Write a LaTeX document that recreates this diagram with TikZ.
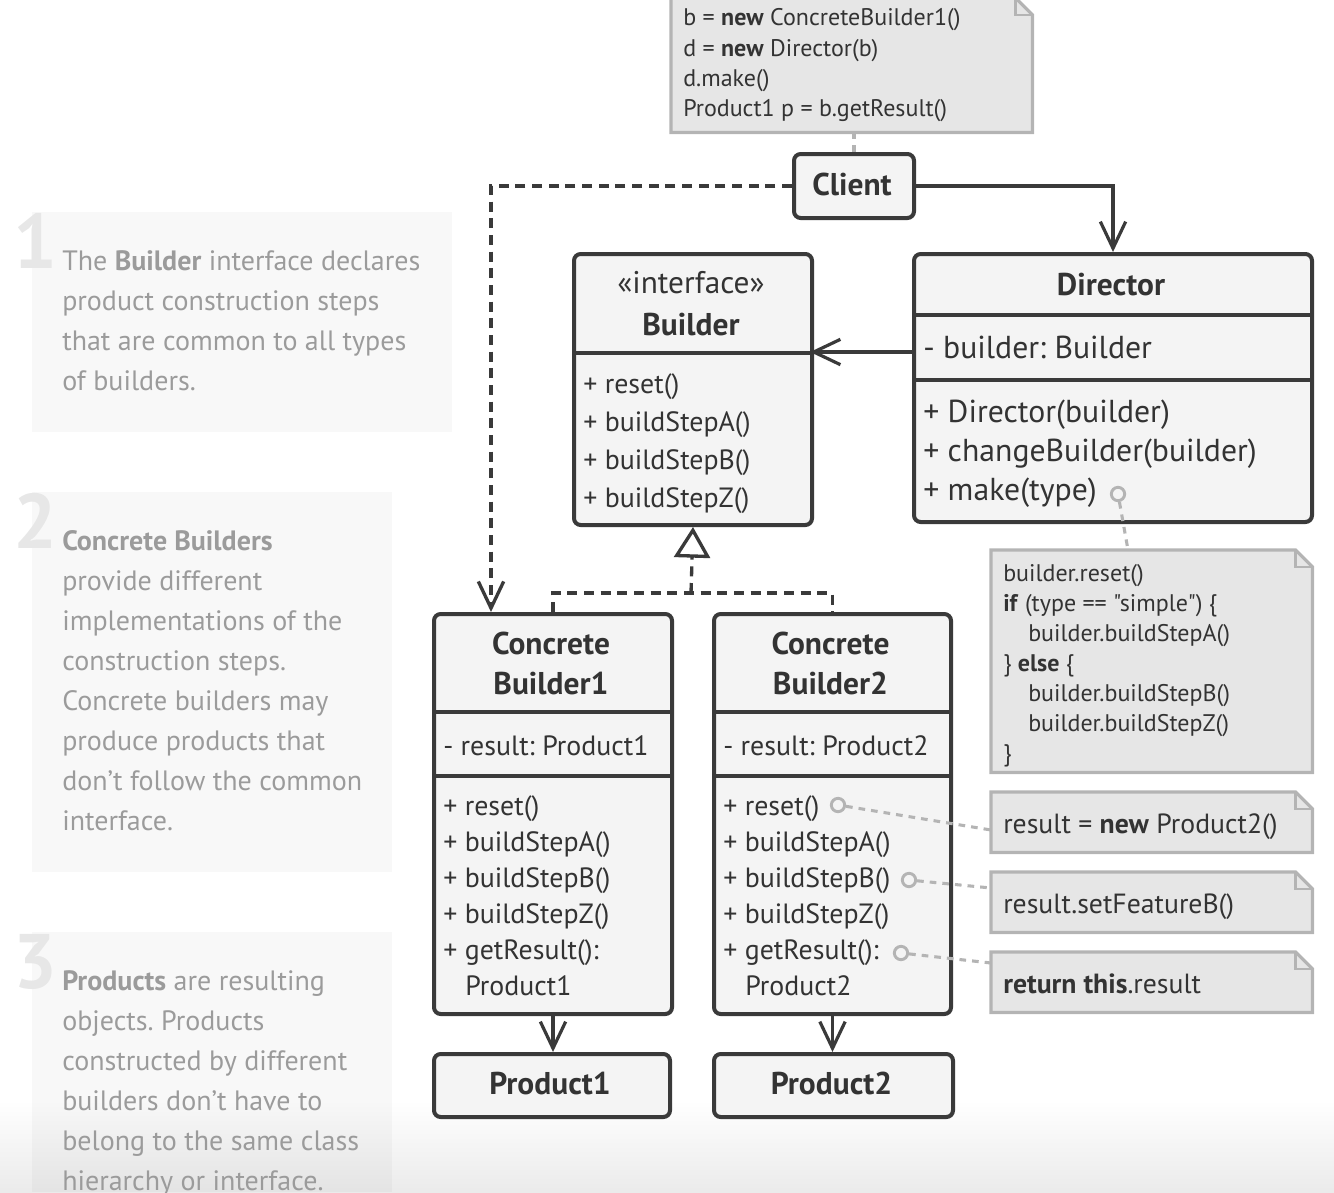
\documentclass[tikz,border=0pt]{standalone}
\usepackage{fontspec}
\setmainfont{PT Sans}
\newfontfamily\codef{PT Sans}
\usetikzlibrary{arrows.meta,calc}
\definecolor{ink}{HTML}{333333}
\definecolor{edge}{HTML}{3A3A3A}
\definecolor{boxfill}{HTML}{F4F4F4}
\definecolor{notefill}{HTML}{E6E6E6}
\definecolor{noteedge}{HTML}{B4B4B4}
\definecolor{paneltext}{HTML}{9B9B9B}
\definecolor{bignum}{HTML}{E7E7E7}
\frenchspacing
\newcommand\umlbox[5]{\node[box, minimum width={(#4-#2)*0.75pt}, minimum height={(#5-#3)*0.75pt}] (#1) at (#2,#3) {};}
\newcommand\notebox[5]{\node[notenode, minimum width={(#4-#2)*0.75pt}, minimum height={(#5-#3)*0.75pt}] (#1) at (#2,#3) {};
  \draw[noteline, fill=notefill] (#1.north west) -- ($(#1.north east)+(-17,0)$) -- ($(#1.north east)+(0,17)$) -- (#1.south east) -- (#1.south west) -- cycle;
  \draw[noteline, line width=1.6pt] ($(#1.north east)+(-17,0)$) -- ($(#1.north east)+(-17,17)$) -- ($(#1.north east)+(0,17)$);}
\tikzset{
  box/.style={draw=edge, line width=3pt, fill=boxfill, rounded corners=5pt, inner sep=0pt, anchor=north west},
  divline/.style={draw=edge, line width=3pt},
  notenode/.style={draw=none, inner sep=0pt, anchor=north west},
  noteline/.style={draw=noteedge, line width=2.4pt, line join=miter},
  mem/.style={inner sep=0pt, text=ink, font=\fontsize{20.9}{24}\selectfont, anchor=base west},
  dmem/.style={inner sep=0pt, text=ink, font=\fontsize{23.8}{26}\selectfont, anchor=base west},
  ttl/.style={inner sep=0pt, text=ink, font=\fontsize{23.6}{26}\selectfont\bfseries, anchor=base},
  stereo/.style={inner sep=0pt, text=ink, font=\fontsize{23.5}{26}\selectfont, anchor=base},
  code/.style={inner sep=0pt, text=ink, font=\codef\fontsize{18}{20}\selectfont, anchor=base west},
  bcode/.style={inner sep=0pt, text=ink, font=\codef\fontsize{20.8}{24}\selectfont, anchor=base west},
  ptxt/.style={inner sep=0pt, text=paneltext, font=\fontsize{21}{24}\selectfont, anchor=base west},
  bignumber/.style={inner sep=0pt, text=bignum, font=\fontsize{58}{60}\selectfont\bfseries, anchor=base west},
  vee/.style={-{Straight Barb[length=20pt,width=19pt]}},
  assoc/.style={draw=edge, line width=2.4pt, vee},
  dep/.style={draw=edge, line width=2.5pt, dash pattern=on 7.5pt off 5pt},
  real/.style={dep, -{Triangle[open, length=23pt, width=27pt, fill=white]}},
  notelink/.style={draw=noteedge, line width=2.3pt, dash pattern=on 5pt off 4.5pt},
  pin/.style={circle, draw=noteedge, line width=2.2pt, fill=boxfill, minimum size=10pt, inner sep=0pt},
}
\begin{document}
\begin{tikzpicture}[x=0.75pt,y=-0.75pt]
\useasboundingbox (0,0) rectangle (1334,1192);
% bottom fade
\shade[top color=white, bottom color=black!8] (0,1100) rectangle (1334,1192);
% explanation panels
\fill[black, fill opacity=0.028] (32,212) rectangle (452,432);
\fill[black, fill opacity=0.028] (32,492) rectangle (392,872);
\fill[black, fill opacity=0.028] (32,932) rectangle (392,1192);
\node[bignumber] (num1) at (13,268) {1};
\node[bignumber] (num2) at (13,548) {2};
\node[bignumber] (num3) at (13,988) {3};
\foreach \t [count=\i] in {{The \textbf{Builder} interface declares},{product construction steps},{that are common to all types},{of builders.}}
  \node[ptxt] (pa\i) at (62,230+40*\i) {\t};
\foreach \t [count=\i] in {{\textbf{Concrete Builders}},{provide different},{implementations of the},{construction steps.},{Concrete builders may},{produce products that},{don’t follow the common},{interface.}}
  \node[ptxt] (pb\i) at (62,510+40*\i) {\t};
\foreach \t [count=\i] in {{\textbf{Products} are resulting},{objects. Products},{constructed by different},{builders don’t have to},{belong to the same class},{hierarchy or interface.}}
  \node[ptxt] (pc\i) at (62,950+40*\i) {\t};

% notes
\notebox{n0}{671}{-2}{1032}{132}
\node[code] (n0a) at (683,26) {b = \textbf{new} ConcreteBuilder1()};
\node[code] (n0b) at (683,56) {d = \textbf{new} Director(b)};
\node[code] (n0c) at (683,86) {d.make()};
\node[code] (n0d) at (683,116) {Product1 p = b.getResult()};
\notebox{n1}{991}{550}{1312}{772}
\node[code] (n1a) at (1003,581) {builder.reset()};
\node[code] (n1b) at (1003,611) {\textbf{if} (type == "simple") \{};
\node[code] (n1c) at (1028,641) {builder.buildStepA()};
\node[code] (n1d) at (1003,671) {\} \textbf{else} \{};
\node[code] (n1e) at (1028,701) {builder.buildStepB()};
\node[code] (n1f) at (1028,731) {builder.buildStepZ()};
\node[code] (n1g) at (1003,761) {\}};
\notebox{n2}{991}{792}{1312}{852}
\node[bcode] (n2a) at (1003,833) {result = \textbf{new} Product2()};
\notebox{n3}{991}{872}{1312}{932}
\node[bcode] (n3a) at (1003,913) {result.setFeatureB()};
\notebox{n4}{991}{952}{1312}{1012}
\node[bcode] (n4a) at (1003,993) {\textbf{return this}.result};

% Client
\umlbox{client}{792}{152}{912}{216}
\node[ttl] (clientt) at (852,195) {Client};

% Builder interface
\umlbox{builder}{572}{252}{810}{523}
\draw[divline] (builder.west |- 0,353) -- (builder.east |- 0,353);
\node[stereo] (bst) at (691,293) {«interface»};
\node[ttl] (btt) at (691,335) {Builder};
\node[mem] (bm1) at (583,393) {+ reset()};
\node[mem] (bm2) at (583,431) {+ buildStepA()};
\node[mem] (bm3) at (583,469) {+ buildStepB()};
\node[mem] (bm4) at (583,507) {+ buildStepZ()};

% Director
\umlbox{director}{912}{252}{1310}{520}
\draw[divline] (director.west |- 0,315) -- (director.east |- 0,315);
\draw[divline] (director.west |- 0,380) -- (director.east |- 0,380);
\node[ttl] (dtt) at (1111,295) {Director};
\node[dmem] (dm0) at (923,358) {- builder: Builder};
\node[dmem] (dm1) at (923,422) {+ Director(builder)};
\node[dmem] (dm2) at (923,461) {+ changeBuilder(builder)};
\node[dmem] (dm3) at (923,500) {+ make(type)};

% Concrete builders
\umlbox{cb1}{432}{612}{670}{1012}
\draw[divline] (cb1.west |- 0,712) -- (cb1.east |- 0,712);
\draw[divline] (cb1.west |- 0,776) -- (cb1.east |- 0,776);
\node[ttl] (c1t1) at (551,654) {Concrete};
\node[ttl] (c1t2) at (551,694) {Builder1};
\node[mem] (c1f) at (443,755) {- result: Product1};
\node[mem] (c1m1) at (443,815) {+ reset()};
\node[mem] (c1m2) at (443,851) {+ buildStepA()};
\node[mem] (c1m3) at (443,887) {+ buildStepB()};
\node[mem] (c1m4) at (443,923) {+ buildStepZ()};
\node[mem] (c1m5) at (443,959) {+ getResult():};
\node[mem] (c1m6) at (465,995) {Product1};

\umlbox{cb2}{712}{612}{949}{1012}
\draw[divline] (cb2.west |- 0,712) -- (cb2.east |- 0,712);
\draw[divline] (cb2.west |- 0,776) -- (cb2.east |- 0,776);
\node[ttl] (c2t1) at (830.5,654) {Concrete};
\node[ttl] (c2t2) at (830.5,694) {Builder2};
\node[mem] (c2f) at (723,755) {- result: Product2};
\node[mem] (c2m1) at (723,815) {+ reset()};
\node[mem] (c2m2) at (723,851) {+ buildStepA()};
\node[mem] (c2m3) at (723,887) {+ buildStepB()};
\node[mem] (c2m4) at (723,923) {+ buildStepZ()};
\node[mem] (c2m5) at (723,959) {+ getResult():};
\node[mem] (c2m6) at (745,995) {Product2};

% Products
\umlbox{p1}{432}{1052}{668}{1115}
\node[ttl] (p1t) at (550,1094) {Product1};
\umlbox{p2}{712}{1052}{951}{1115}
\node[ttl] (p2t) at (831.5,1094) {Product2};

% pins
\node[pin] (pin0) at (1118,494) {};
\node[pin] (pin1) at (838,805) {};
\node[pin] (pin2) at (909,880) {};
\node[pin] (pin3) at (901,953) {};
\coordinate (n1in) at (1128,550);
\coordinate (n2in) at (991,830);
\coordinate (n3in) at (991,888);
\coordinate (n4in) at (991,963);
\coordinate (cb1in) at (491,612);
\coordinate (bdiv) at (810,352);
\coordinate (fork) at (691,593);

% connectors
\draw[notelink] (n0.south -| client.north) -- (client.north);
\draw[notelink] (pin0) -- (n1in);
\draw[notelink] (pin1) -- (n2in);
\draw[notelink] (pin2) -- (n3in);
\draw[notelink] (pin3) -- (n4in);
\draw[assoc] (client.east) -| (director.north);
\draw[dep, vee] (client.west) -| (cb1in);
\draw[assoc] (director.west |- bdiv) -- (bdiv);
\draw[dep] (cb1.north) |- (fork) -| (cb2.north);
\draw[real] (fork) -- (builder.south);
\draw[assoc] (cb1.south) -- (cb1.south |- p1.north);
\draw[assoc] (cb2.south) -- (cb2.south |- p2.north);
\end{tikzpicture}
\end{document}
